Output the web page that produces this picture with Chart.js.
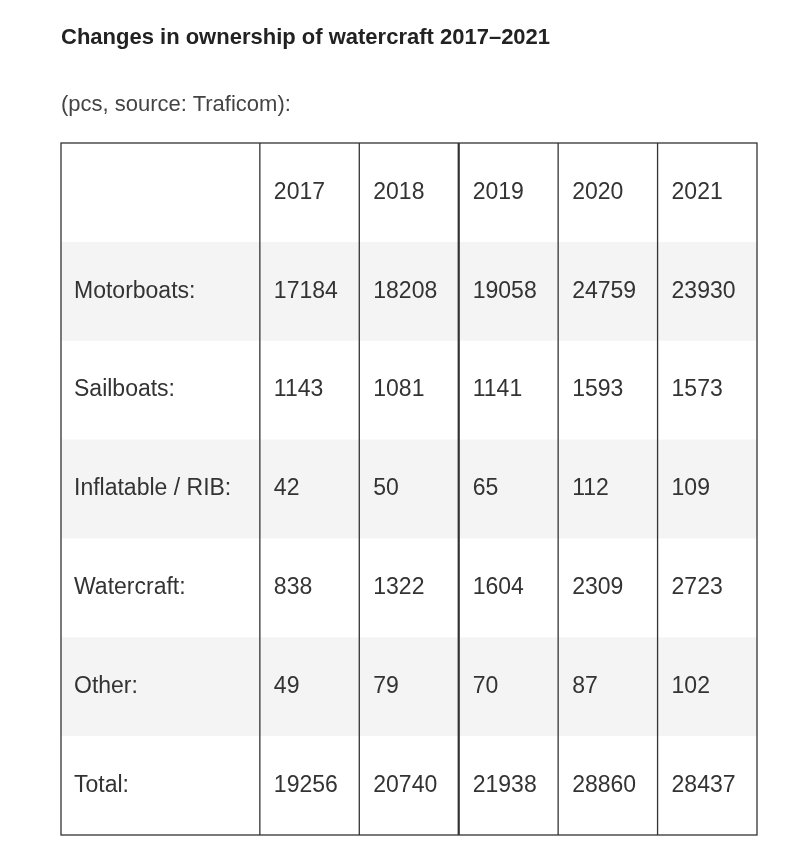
<!DOCTYPE html>
<html><head><meta charset="utf-8">
<script src="https://cdn.jsdelivr.net/npm/chart.js@4"></script>
<style>
body{margin:0;background:#fff;font-family:"Liberation Sans",Arial,sans-serif;}
#wrap{position:relative;width:800px;height:847px;}
#t{position:absolute;left:61px;top:24px;font-weight:bold;font-size:22px;color:#222;}
#s{position:absolute;left:61px;top:91px;font-size:22px;color:#444;}
canvas{position:absolute;left:0;top:0;}
</style></head><body>
<div id="wrap">
<canvas id="c" width="800" height="847"></canvas>
<div id="t">Changes in ownership of watercraft 2017–2021</div>
<div id="s">(pcs, source: Traficom):</div>
</div>
<script>
const years = ['2017','2018','2019','2020','2021'];
const rowLabels = ['Motorboats:','Sailboats:','Inflatable / RIB:','Watercraft:','Other:','Total:'];
const motorboats = [17184,18208,19058,24759,23930];
const sailboats = [1143,1081,1141,1593,1573];
const inflatable = [42,50,65,112,109];
const watercraft = [838,1322,1604,2309,2723];
const other = [49,79,70,87,102];
const total = [19256,20740,21938,28860,28437];
const rows = [motorboats,sailboats,inflatable,watercraft,other,total];

const tablePlugin = {
  id:'table',
  beforeDatasetsDraw(chart){
    const ctx=chart.ctx, x=chart.scales.x, y=chart.scales.y;
    const L=x.getPixelForValue(0), R=x.getPixelForValue(7);
    ctx.save();
    rows.forEach((r,i)=>{
      if(i%2===0){
        const t=y.getPixelForValue(i+1), b=y.getPixelForValue(i+2);
        ctx.fillStyle='#f4f4f4';
        ctx.fillRect(L,t,R-L,b-t);
      }
    });
    ctx.strokeStyle='#333';
    const T=y.getPixelForValue(0), B=y.getPixelForValue(7);
    ctx.lineWidth=1.3;
    ctx.strokeRect(L,T,R-L,B-T);
    [2,3,4,5,6].forEach(v=>{
      const px=x.getPixelForValue(v);
      ctx.lineWidth = v===4?2.2:1.3;
      ctx.beginPath();ctx.moveTo(px,T);ctx.lineTo(px,B);ctx.stroke();
    });
    ctx.fillStyle='#333';
    ctx.font='23px "Liberation Sans", Arial, sans-serif';
    ctx.textBaseline='middle';ctx.textAlign='left';
    years.forEach((yr,j)=>ctx.fillText(yr,x.getPixelForValue(2+j)+14,y.getPixelForValue(0.5)));
    rowLabels.forEach((lab,i)=>{
      const cy=y.getPixelForValue(i+1.5);
      ctx.fillText(lab,L+13,cy);
      rows[i].forEach((v,j)=>ctx.fillText(String(v),x.getPixelForValue(2+j)+14,cy));
    });
    ctx.restore();
  }
};

new Chart(document.getElementById('c'),{
  type:'scatter',
  data:{datasets:[{data:[]}]},
  options:{
    responsive:false,animation:false,
    layout:{padding:{left:61,right:43,top:143,bottom:12}},
    plugins:{legend:{display:false},tooltip:{enabled:false}},
    scales:{
      x:{type:'linear',min:0,max:7,display:false},
      y:{type:'linear',min:0,max:7,reverse:true,display:false}
    }
  },
  plugins:[tablePlugin]
});
</script>
</body></html>
